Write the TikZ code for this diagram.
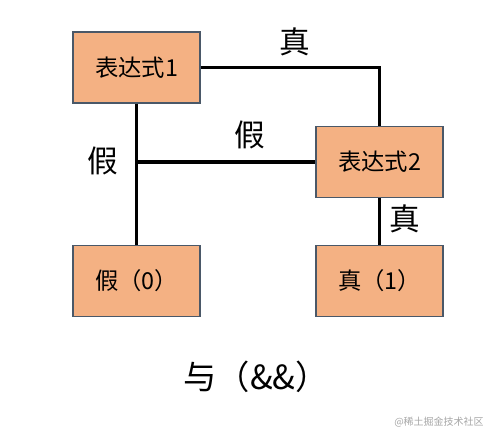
\documentclass[tikz,border=0pt]{standalone}
\usepackage{fontspec}
\setmainfont{Noto Sans CJK SC}
\usepackage{xcolor}
\usetikzlibrary{positioning}
\definecolor{boxfill}{HTML}{F4B183}
\definecolor{boxline}{HTML}{4A5868}
\tikzstyle{expr}=[rectangle, draw=boxline, line width=0.8pt, fill=boxfill,
        minimum width=95.25pt, minimum height=53.25pt, inner sep=0pt,
        font=\fontsize{17.5pt}{20pt}\selectfont]
\tikzstyle{branch}=[font=\fontsize{23pt}{26pt}\selectfont]
\tikzstyle{wire}=[line width=2.8pt]

\begin{document}
\begin{tikzpicture}[x=0.75pt, y=-0.75pt]
      \useasboundingbox (0,0) rectangle (490,433);
      % Place nodes
      \node [expr] (expr1) at (136.5,67.5) {表达式1};
      \node [expr] (expr2) at (379.5,162) {表达式2};
      \node [expr] (false) at (136.5,281) {假（0）};
      \node [expr] (true) at (379.5,281) {真（1）};
      \node [branch] (ltrue) at (295,42) {真};
      \node [branch] (lfalse) at (250,135) {假};
      \node [branch] (lfalse2) at (103,161) {假};
      \node [branch] (ltrue2) at (405,219) {真};
      \node [branch, font=\fontsize{25pt}{28pt}\selectfont] (title) at (256,377) {与（\&\&）};
      \node [font=\fontsize{7.5pt}{9pt}\selectfont, text=gray!70] (mark) at (439,422) {@稀土掘金技术社区};
      % Draw edges
      \draw [wire] (expr1.east) -| (expr2.north);
      \draw [wire] (expr1.south) -- (false.north);
      \draw [wire] (expr1.south |- expr2.west) -- (expr2.west);
      \draw [wire] (expr2.south) -- (true.north);
\end{tikzpicture}
\end{document}
